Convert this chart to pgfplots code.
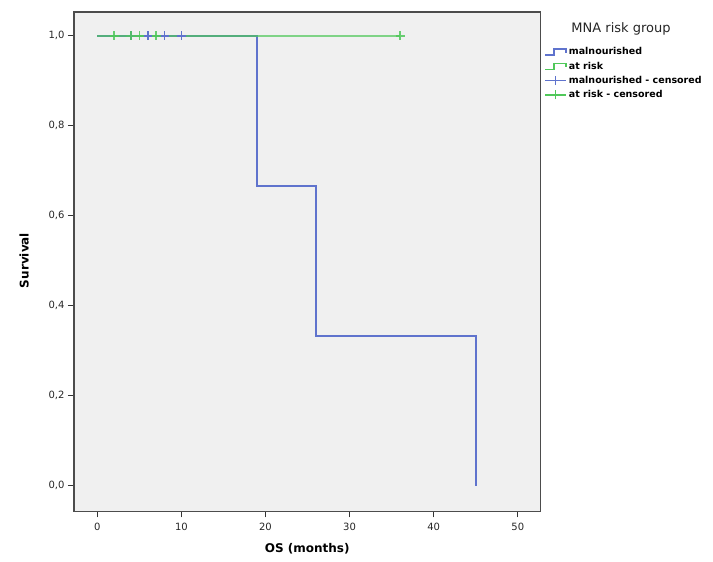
\documentclass[border=0pt]{standalone}
\usepackage{fontspec}
\setmainfont{DejaVu Sans}
\usepackage{pgfplots}
\pgfplotsset{compat=1.18}
\definecolor{bggray}{RGB}{240,240,240}
\definecolor{spssblue}{RGB}{95,115,205}
\definecolor{spssgreen}{RGB}{80,200,90}
\pgfplotsset{
  steplegend/.style={legend image code/.code={\draw[##1] (0pt,-3pt) -- (9pt,-3pt) -- (9pt,3pt) -- (21pt,3pt) -- (21pt,-1pt);}},
  censlegend/.style={legend image code/.code={\draw[##1] (0pt,0pt) -- (21pt,0pt); \draw[##1] (10.5pt,-4.5pt) -- (10.5pt,4.5pt);}},
}
\begin{document}
\begin{tikzpicture}
\begin{axis}[
  name=ax, at={(0,0)}, anchor=south west,
  scale only axis, width=466.5pt, height=499.3pt,
  xmin=-2.77, xmax=52.7, ymin=-0.057, ymax=1.053,
  clip=false,
  axis background/.style={fill=bggray},
  axis line style={draw=black!70, line width=1.1pt},
  xtick={0,10,20,30,40,50}, ytick={0,0.2,0.4,0.6,0.8,1},
  tick align=outside, xtick pos=bottom, ytick pos=left,
  major tick length=6pt,
  tick style={black!80, line width=1pt},
  /pgf/number format/assume math mode=true,
  yticklabel style={/pgf/number format/.cd, fixed, fixed zerofill, precision=1, use comma},
  ticklabel style={font=\fontsize{10}{12}\selectfont, text=black!85},
  xticklabel style={yshift=-2pt},
  xlabel={OS (months)}, ylabel={Survival},
  label style={font=\bfseries\fontsize{12}{14}\selectfont},
  xlabel style={at={(axis description cs:0.5,-0.0755)}, anchor=center},
  ylabel style={at={(axis description cs:-0.1066,0.5023)}, anchor=center},
  legend style={at={(axis description cs:1.008,0.933)}, anchor=north west,
    draw=none, fill=none, font=\bfseries\fontsize{9.5}{11}\selectfont, row sep=1.6pt,
    inner sep=0pt},
  legend cell align=left,
]
\addplot[spssblue, line width=1.6pt, forget plot] coordinates {
  (0,1) (19,1) (19,0.6667) (26,0.6667) (26,0.3333) (45,0.3333) (45,0)};
\addplot[spssgreen, line width=1.6pt, opacity=0.7, forget plot] coordinates {
  (0,1) (36,1)};
\addplot[only marks, mark=+, mark size=4.5pt, spssblue, line width=1.5pt, forget plot] coordinates {
  (4,1) (6,1) (8,1) (10,1)};
\addplot[only marks, mark=+, mark size=4.5pt, spssgreen, line width=1.5pt, opacity=0.85, forget plot] coordinates {
  (2,1) (4,1) (5,1) (7,1) (36,1)};
\addlegendimage{spssblue, line width=1.5pt, steplegend}
\addlegendentry{malnourished}
\addlegendimage{spssgreen, line width=1.5pt, steplegend}
\addlegendentry{at risk}
\addlegendimage{spssblue, line width=1.5pt, censlegend}
\addlegendentry{malnourished - censored}
\addlegendimage{spssgreen, line width=1.5pt, censlegend}
\addlegendentry{at risk - censored}
\node[font=\fontsize{13}{15}\selectfont, text=black!85] at (axis description cs:1.1726,0.9666) {MNA risk group};
\end{axis}
\pgfresetboundingbox
\path[use as bounding box] (-74pt,-50.7pt) rectangle (639pt,511.3pt);
\end{tikzpicture}
\end{document}
